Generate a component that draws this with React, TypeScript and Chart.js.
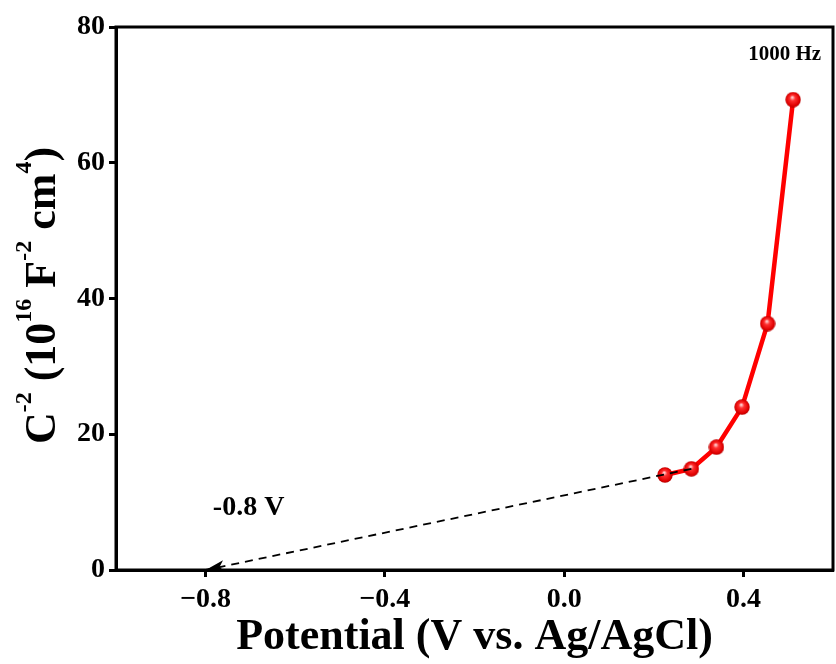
import React, { useEffect, useRef } from "react";
import { Chart, registerables } from "chart.js";

Chart.register(...registerables);

const potential = [0.225, 0.284, 0.34, 0.397, 0.454, 0.511];
const capInvSq = [14.0, 14.9, 18.1, 24.0, 36.3, 69.3];
const fitX = [0.284, -0.8];
const fitY = [14.9, 0];
const xTicks = [-0.8, -0.4, 0.0, 0.4];
const yTicks = [0, 20, 40, 60, 80];
const interceptLabel = "-0.8 V";
const freqLabel = "1000 Hz";
const xTitle = "Potential (V vs. Ag/AgCl)";
const yTitleParts: [string, boolean][] = [
  ["C", false],
  ["-2", true],
  [" (10", false],
  ["16", true],
  [" F", false],
  ["-2", true],
  [" cm", false],
  ["4", true],
  [")", false],
];

const SERIF = '"Liberation Serif", "Times New Roman", serif';

const fmtX = (n: number) => (n < 0 ? "\u2212" + Math.abs(n).toFixed(1) : n.toFixed(1));

function makeBall(): HTMLCanvasElement {
  const c = document.createElement("canvas");
  const s = 16;
  c.width = s;
  c.height = s;
  const g = c.getContext("2d")!;
  const grad = g.createRadialGradient(s * 0.45, s * 0.35, 0.5, s / 2, s / 2, s / 2);
  grad.addColorStop(0, "#ffd0d0");
  grad.addColorStop(0.3, "#ff3030");
  grad.addColorStop(0.8, "#e00000");
  grad.addColorStop(1, "#b00000");
  g.fillStyle = grad;
  g.beginPath();
  g.arc(s / 2, s / 2, s / 2 - 0.3, 0, Math.PI * 2);
  g.fill();
  return c;
}

const decorPlugin = {
  id: "decor",
  afterDatasetsDraw(chart: any) {
    const { ctx, chartArea, scales } = chart;
    const xs = scales.x;
    const ys = scales.y;
    ctx.save();
    ctx.strokeStyle = "#000";
    ctx.lineWidth = 3;
    ctx.strokeRect(chartArea.left, chartArea.top, chartArea.right - chartArea.left, chartArea.bottom - chartArea.top);

    const x1 = xs.getPixelForValue(fitX[0]);
    const y1 = ys.getPixelForValue(fitY[0]);
    const x0 = xs.getPixelForValue(fitX[1]);
    const y0 = ys.getPixelForValue(fitY[1]);
    const ang = Math.atan2(y0 - y1, x0 - x1);
    const len = 19;
    const half = 6;
    ctx.fillStyle = "#000";
    ctx.beginPath();
    ctx.moveTo(x0, y0);
    ctx.lineTo(x0 - len * Math.cos(ang) + half * Math.sin(ang), y0 - len * Math.sin(ang) - half * Math.cos(ang));
    ctx.lineTo(x0 - len * 0.75 * Math.cos(ang), y0 - len * 0.75 * Math.sin(ang));
    ctx.lineTo(x0 - len * Math.cos(ang) - half * Math.sin(ang), y0 - len * Math.sin(ang) + half * Math.cos(ang));
    ctx.closePath();
    ctx.fill();

    ctx.fillStyle = "#000";
    ctx.font = `bold 28px ${SERIF}`;
    ctx.textAlign = "center";
    ctx.textBaseline = "alphabetic";
    xTicks.forEach((v) => {
      ctx.fillText(fmtX(v), xs.getPixelForValue(v), chartArea.bottom + 37);
    });

    ctx.textBaseline = "middle";
    ctx.font = `bold 28px ${SERIF}`;
    ctx.fillText(interceptLabel, xs.getPixelForValue(-0.704), ys.getPixelForValue(9.1));
    ctx.font = `bold 21px ${SERIF}`;
    ctx.fillText(freqLabel, xs.getPixelForValue(0.492), ys.getPixelForValue(76.0));
    ctx.restore();
  },
  afterDraw(chart: any) {
    const { ctx, chartArea } = chart;
    ctx.save();
    const cy = (chartArea.top + chartArea.bottom) / 2 - 3;
    ctx.translate(55, cy);
    ctx.rotate(-Math.PI / 2);
    const bigF = `bold 44px ${SERIF}`;
    const smallF = `bold 24px ${SERIF}`;
    let total = 0;
    const widths = yTitleParts.map(([t, sup]) => {
      ctx.font = sup ? smallF : bigF;
      const w = ctx.measureText(t).width;
      total += w;
      return w;
    });
    let x = -total / 2;
    ctx.fillStyle = "#000";
    ctx.textAlign = "left";
    ctx.textBaseline = "alphabetic";
    yTitleParts.forEach(([t, sup], i) => {
      ctx.font = sup ? smallF : bigF;
      ctx.fillText(t, x, sup ? -24 : 0);
      x += widths[i];
    });
    ctx.restore();
  },
};

export default function App() {
  const ref = useRef<HTMLCanvasElement | null>(null);
  useEffect(() => {
    if (!ref.current) return;
    const ball = makeBall();
    const chart = new Chart(ref.current, {
      type: "scatter",
      data: {
        datasets: [
          {
            label: "fit",
            data: fitX.map((x, i) => ({ x, y: fitY[i] })),
            showLine: true,
            borderColor: "#000",
            borderWidth: 1.8,
            borderDash: [8, 6],
            pointRadius: 0,
            fill: false,
          },
          {
            label: "Mott-Schottky",
            data: potential.map((x, i) => ({ x, y: capInvSq[i] })),
            showLine: true,
            borderColor: "#ff0000",
            borderWidth: 4.5,
            pointStyle: ball as any,
            pointRadius: 8,
            fill: false,
          },
        ],
      },
      plugins: [decorPlugin],
      options: {
        animation: false,
        responsive: true,
        maintainAspectRatio: false,
        layout: { autoPadding: false, padding: { top: 27, right: 3, left: 0, bottom: 0 } },
        plugins: {
          legend: { display: false },
          tooltip: { enabled: false },
        },
        scales: {
          x: {
            type: "linear",
            min: -1.0,
            max: 0.6,
            afterBuildTicks: (s: any) => {
              s.ticks = xTicks.map((v) => ({ value: v }));
            },
            afterFit: (s: any) => {
              s.height = 94;
            },
            ticks: { display: false },
            grid: { drawOnChartArea: false, drawTicks: true, tickLength: 7, tickWidth: 3, tickColor: "#000" },
            border: { display: true, width: 3, color: "#000" },
            title: {
              display: true,
              text: xTitle,
              color: "#000",
              font: { family: SERIF, size: 44, weight: "bold" },
              padding: { top: 0, bottom: 0 },
            },
          },
          y: {
            type: "linear",
            min: 0,
            max: 80,
            afterBuildTicks: (s: any) => {
              s.ticks = yTicks.map((v) => ({ value: v }));
            },
            afterFit: (s: any) => {
              s.width = 116;
            },
            ticks: {
              color: "#000",
              font: { family: SERIF, size: 28, weight: "bold" },
              padding: 4,
              callback: (v: any) => String(v),
            },
            grid: { drawOnChartArea: false, drawTicks: true, tickLength: 7, tickWidth: 3, tickColor: "#000" },
            border: { display: true, width: 3, color: "#000" },
          },
        },
      },
    });
    return () => chart.destroy();
  }, []);
  return (
    <div style={{ position: "fixed", left: 0, top: 0, width: 836, height: 664, background: "#fff" }}>
      <canvas ref={ref} />
    </div>
  );
}
